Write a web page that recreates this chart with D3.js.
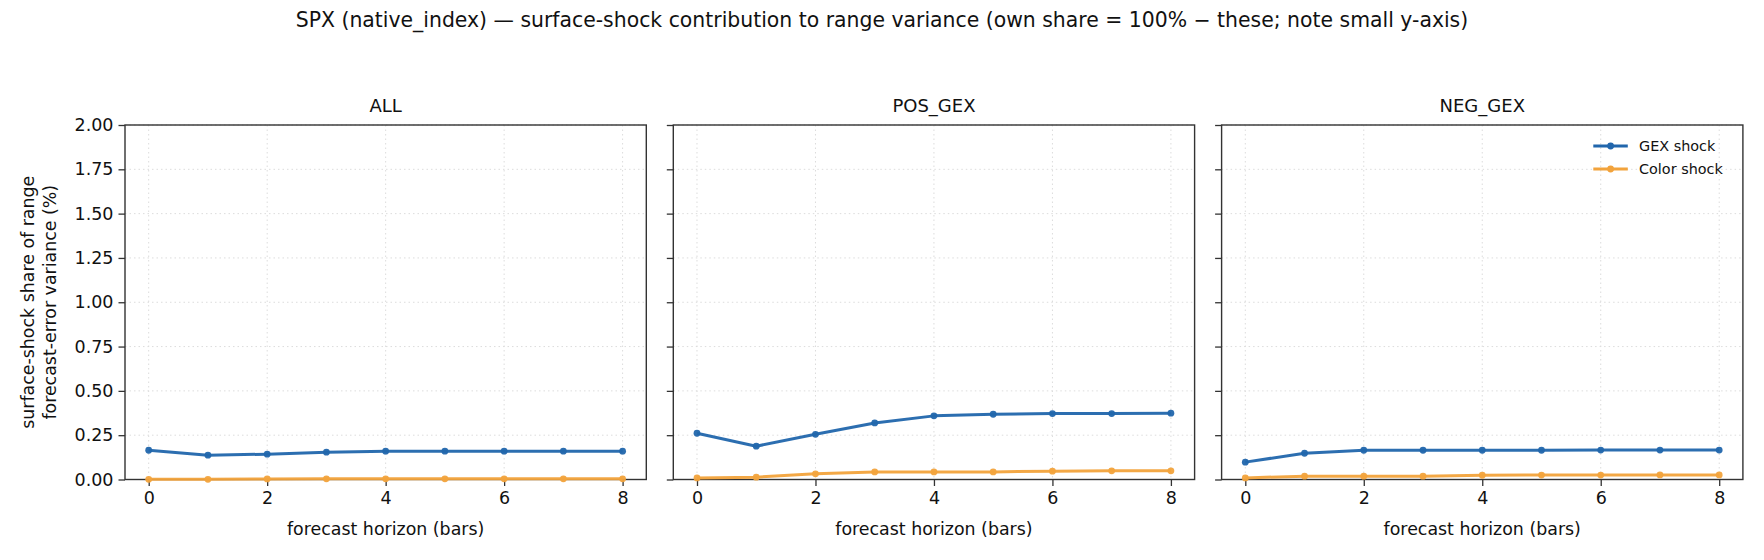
<!DOCTYPE html>
<html>
<head>
<meta charset="utf-8">
<script src="https://cdn.jsdelivr.net/npm/d3@7"></script>
<style>
  body { margin: 0; background: #fff; }
  svg { font-family: "DejaVu Sans", sans-serif; }
</style>
</head>
<body>
<div id="chart"></div>
<script>
const horizons = [0, 1, 2, 3, 4, 5, 6, 7, 8];
const panelNames = ["ALL", "POS_GEX", "NEG_GEX"];
const seriesNames = ["GEX shock", "Color shock"];

const gexAll = [0.165, 0.137, 0.143, 0.154, 0.160, 0.160, 0.160, 0.160, 0.160];
const colorAll = [0.001, 0.001, 0.003, 0.004, 0.004, 0.004, 0.004, 0.004, 0.004];
const gexPos = [0.261, 0.188, 0.255, 0.319, 0.359, 0.368, 0.372, 0.372, 0.374];
const colorPos = [0.009, 0.013, 0.032, 0.043, 0.043, 0.043, 0.047, 0.049, 0.049];
const gexNeg = [0.098, 0.148, 0.165, 0.165, 0.165, 0.165, 0.166, 0.166, 0.166];
const colorNeg = [0.009, 0.019, 0.019, 0.019, 0.024, 0.025, 0.025, 0.026, 0.026];

const xTicks = [0, 2, 4, 6, 8];
const yTicks = [0, 0.25, 0.5, 0.75, 1.0, 1.25, 1.5, 1.75, 2.0];

const panelData = [
    [gexAll, colorAll],
    [gexPos, colorPos],
    [gexNeg, colorNeg]
];
const colors = ["#2166ac", "#f2a33c"];

const W = 1764, H = 560;
const plotTop = 125, plotBottom = 479.5;
const panelW = 521.3;
const lefts = [125, 673.3, 1221.6];

const svg = d3.select("#chart")
    .append("svg")
    .attr("width", W)
    .attr("height", H);

// suptitle
svg.append("text")
    .attr("x", W / 2)
    .attr("y", 27)
    .attr("text-anchor", "middle")
    .style("font-size", "20.4px")
    .style("fill", "#111")
    .text("SPX (native_index) \u2014 surface-shock contribution to range variance (own share = 100% \u2212 these; note small y-axis)");

const y = d3.scaleLinear().domain([0, 2]).range([plotBottom, plotTop]);

panelNames.forEach((name, i) => {
    const x = d3.scaleLinear().domain([-0.4, 8.4]).range([0, panelW]);
    const g = svg.append("g").attr("transform", `translate(${lefts[i]},0)`);

    // grid
    g.selectAll(".gx").data(xTicks).enter().append("line")
        .attr("x1", d => x(d)).attr("x2", d => x(d))
        .attr("y1", plotTop).attr("y2", plotBottom)
        .attr("stroke", "#dcdcdc").attr("stroke-width", 1)
        .attr("stroke-dasharray", "1.5,3");
    g.selectAll(".gy").data(yTicks).enter().append("line")
        .attr("x1", 0).attr("x2", panelW)
        .attr("y1", d => y(d)).attr("y2", d => y(d))
        .attr("stroke", "#dcdcdc").attr("stroke-width", 1)
        .attr("stroke-dasharray", "1.5,3");

    // axes
    const xAxis = g.append("g")
        .attr("transform", `translate(0,${plotBottom})`)
        .call(d3.axisBottom(x).tickValues(xTicks).tickSize(6.5).tickPadding(6).tickFormat(d3.format("d")));
    const yAxis = g.append("g")
        .call(d3.axisLeft(y).tickValues(yTicks).tickSize(6.5).tickPadding(5)
            .tickFormat(i === 0 ? d3.format(".2f") : () => ""));
    [xAxis, yAxis].forEach(a => {
        a.select(".domain").remove();
        a.selectAll("line").attr("stroke", "#333").attr("stroke-width", 1.3);
        a.selectAll("text").style("font-size", "17.5px").style("fill", "#111")
            .style("font-family", "DejaVu Sans, sans-serif");
    });

    // frame
    g.append("rect")
        .attr("x", 0).attr("y", plotTop)
        .attr("width", panelW).attr("height", plotBottom - plotTop)
        .attr("fill", "none").attr("stroke", "#333").attr("stroke-width", 1.4);

    // series
    const line = d3.line().x((d, j) => x(horizons[j])).y(d => y(d));
    panelData[i].forEach((vals, s) => {
        g.append("path")
            .datum(vals)
            .attr("d", line)
            .attr("fill", "none")
            .attr("stroke", colors[s])
            .attr("stroke-width", 3)
            .attr("stroke-linejoin", "round")
            .attr("opacity", 0.95);
        g.selectAll(".pt" + s).data(vals).enter().append("circle")
            .attr("cx", (d, j) => x(horizons[j]))
            .attr("cy", d => y(d))
            .attr("r", 3.4)
            .attr("fill", colors[s])
            .attr("opacity", 0.95);
    });

    // panel title
    g.append("text")
        .attr("x", panelW / 2).attr("y", 112)
        .attr("text-anchor", "middle")
        .style("font-size", "18px").style("fill", "#111")
        .text(name);

    // x label
    g.append("text")
        .attr("x", panelW / 2).attr("y", 535)
        .attr("text-anchor", "middle")
        .style("font-size", "17.4px").style("fill", "#111")
        .text("forecast horizon (bars)");

    // legend in last panel
    if (i === 2) {
        seriesNames.forEach((sn, s) => {
            const ly = 146 + s * 23;
            const lx0 = 1593.3 - lefts[i];
            g.append("line")
                .attr("x1", lx0).attr("x2", lx0 + 34.5)
                .attr("y1", ly).attr("y2", ly)
                .attr("stroke", colors[s]).attr("stroke-width", 3);
            g.append("circle")
                .attr("cx", lx0 + 17.3).attr("cy", ly).attr("r", 3.4)
                .attr("fill", colors[s]);
            g.append("text")
                .attr("x", 1639 - lefts[i]).attr("y", ly + 5)
                .style("font-size", "14.4px").style("fill", "#111")
                .text(sn);
        });
    }
});

// y label
svg.append("text")
    .attr("transform", `translate(34,${(plotTop + plotBottom) / 2}) rotate(-90)`)
    .attr("text-anchor", "middle")
    .style("font-size", "17.4px").style("fill", "#111")
    .text("surface-shock share of range");
svg.append("text")
    .attr("transform", `translate(56,${(plotTop + plotBottom) / 2}) rotate(-90)`)
    .attr("text-anchor", "middle")
    .style("font-size", "17.4px").style("fill", "#111")
    .text("forecast-error variance (%)");
</script>
</body>
</html>
